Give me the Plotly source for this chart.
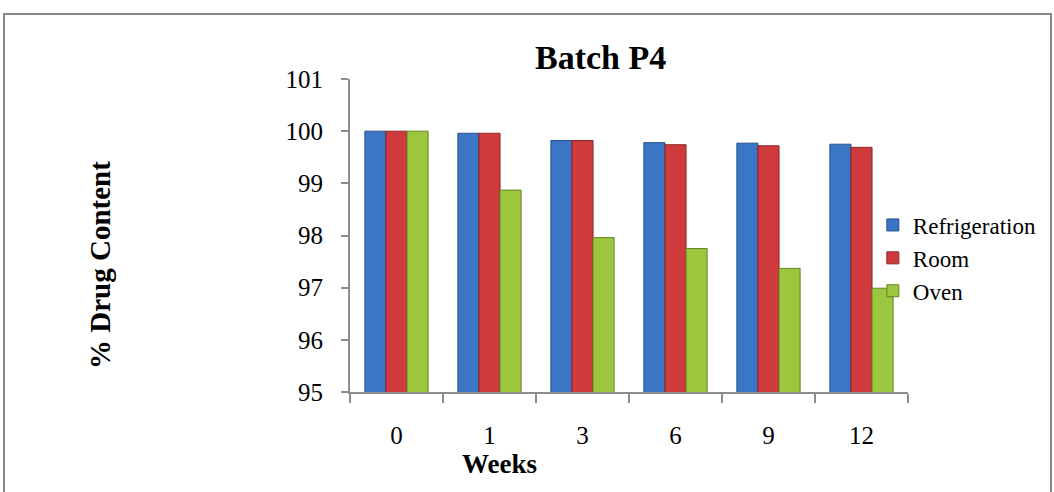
import plotly.graph_objects as go

weeks = ["0", "1", "3", "6", "9", "12"]
refrigeration = [100.0, 99.96, 99.82, 99.78, 99.77, 99.75]
room = [100.0, 99.96, 99.82, 99.74, 99.72, 99.69]
oven = [100.0, 98.87, 97.96, 97.75, 97.37, 96.99]

series_names = ["Refrigeration", "Room", "Oven"]
series_values = [refrigeration, room, oven]
colors = ["#3B76C6", "#CF3B3D", "#9CC63E"]
edge_colors = ["#24508A", "#8E2426", "#66852A"]

FONT = "Liberation Serif"

fig = go.Figure()
for name, vals, c, ec in zip(series_names, series_values, colors, edge_colors):
    fig.add_trace(go.Bar(
        x=weeks, y=vals, name=name, legendgroup=name,
        marker=dict(color=c, line=dict(color=ec, width=1)),
    ))

fig.update_layout(
    width=1054, height=492,
    margin=dict(l=350, r=146, t=79, b=100, autoexpand=False),
    paper_bgcolor="white", plot_bgcolor="white",
    barmode="group", bargap=0.32, bargroupgap=0,
    font=dict(family=FONT, color="black"),
    showlegend=True,
    legend=dict(
        x=0.937, y=(392 - 258) / 313, xanchor="left", yanchor="middle",
        font=dict(family=FONT, size=23, color="black"),
        bgcolor="rgba(0,0,0,0)", tracegroupgap=0, itemwidth=30,
    ),
    xaxis=dict(
        type="category", tickson="boundaries",
        showline=True, linecolor="#8C8C8C", linewidth=2,
        ticks="outside", ticklen=9, tickcolor="#8C8C8C", tickwidth=2,
        tickfont=dict(family=FONT, size=25, color="black"),
        ticklabelstandoff=20,
        showgrid=False,
    ),
    yaxis=dict(
        range=[95, 101], dtick=1, tick0=95,
        showline=True, linecolor="#8C8C8C", linewidth=2,
        ticks="outside", ticklen=7, tickcolor="#8C8C8C", tickwidth=2,
        tickfont=dict(family=FONT, size=25, color="black"),
        ticklabelstandoff=13,
        showgrid=False, zeroline=False,
    ),
    annotations=[
        dict(text="<b>Batch P4</b>", xref="paper", yref="paper",
             x=(600 - 350) / 558, y=1 + (79 - 58) / 313, xanchor="center", yanchor="middle",
             showarrow=False, font=dict(family=FONT, size=34, color="black")),
        dict(text="<b>Weeks</b>", xref="paper", yref="paper",
             x=(499 - 350) / 558, y=-(464 - 392) / 313, xanchor="center", yanchor="middle",
             showarrow=False, font=dict(family=FONT, size=27, color="black")),
        dict(text="<b>% Drug Content</b>", xref="paper", yref="paper",
             x=(100 - 350) / 558, y=(392 - 265) / 313, xanchor="center", yanchor="middle",
             textangle=-90, showarrow=False, font=dict(family=FONT, size=29, color="black")),
    ],
    shapes=[
        dict(type="rect", xref="paper", yref="paper",
             x0=(4 - 350) / 558, x1=(1051 - 350) / 558,
             y0=(392 - 500) / 313, y1=1 + (79 - 14) / 313,
             line=dict(color="#888888", width=2), fillcolor="rgba(0,0,0,0)", layer="below"),
    ],
)

fig.write_html("out.html")
